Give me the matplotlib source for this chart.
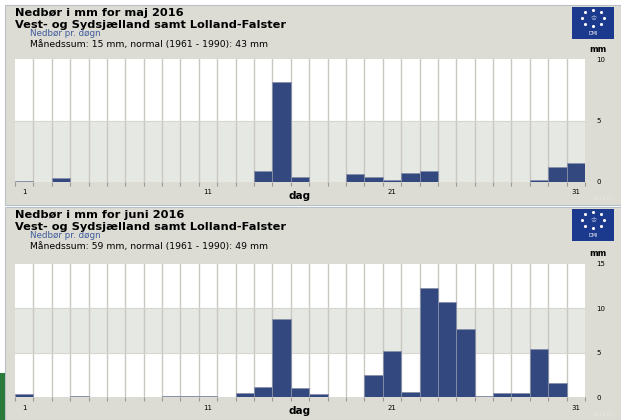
import numpy as np
import matplotlib
matplotlib.use('Agg')
import matplotlib.pyplot as plt
from matplotlib.patches import Rectangle

# Nedbør pr. døgn (mm)
days = list(range(1, 32))
maj_mm = [0.1, 0, 0.35, 0, 0, 0, 0, 0, 0, 0,
          0, 0, 0, 0.9, 8.1, 0.4, 0, 0, 0.65, 0.43,
          0.2, 0.7, 0.9, 0, 0, 0, 0, 0, 0.15, 1.2, 1.55]
juni_mm = [0.3, 0, 0, 0.1, 0, 0, 0, 0, 0.15, 0.1,
           0.1, 0, 0.4, 1.1, 8.8, 1.0, 0.3, 0, 0, 2.5,
           5.2, 0.55, 12.3, 10.7, 7.65, 0.1, 0.4, 0.4, 5.4, 1.6, 0]

panels = [
    {'title': 'Nedbør i mm for maj 2016', 'values': maj_mm,
     'summary': 'Månedssum: 15 mm, normal (1961 - 1990): 43 mm',
     'ymax': 10, 'yticks': [0, 5, 10], 'top': 5, 'bottom': 205,
     'ax_top': 59, 'ax_bottom': 182},
    {'title': 'Nedbør i mm for juni 2016', 'values': juni_mm,
     'summary': 'Månedssum: 59 mm, normal (1961 - 1990): 49 mm',
     'ymax': 15, 'yticks': [0, 5, 10, 15], 'top': 207, 'bottom': 420,
     'ax_top': 264, 'ax_bottom': 397},
]
subtitle = 'Vest- og Sydsjælland samt Lolland-Falster'

W, H = 621, 420
bg = '#dcdcd4'
bar_color = '#33487f'
band_gray = '#e6e8e3'
grid_color = '#c9c9c1'

fig = plt.figure(figsize=(W / 100, H / 100), dpi=100)
fig.patch.set_facecolor('white')


def fx(x):
    return x / W


def fy(y):
    return 1 - y / H


for p in panels:
    # panelets baggrund
    fig.patches.append(Rectangle((fx(5), fy(p['bottom'])), fx(W - 5), (p['bottom'] - p['top']) / H,
                                 transform=fig.transFigure, facecolor=bg,
                                 edgecolor='#b8c0c8', linewidth=0.8, zorder=-5))
    top = p['top']
    fig.text(fx(15), fy(top + 8), p['title'], fontsize=8.2, fontweight='bold', va='center')
    fig.text(fx(15), fy(top + 19.5), subtitle, fontsize=8.2, fontweight='bold', va='center')
    fig.text(fx(30), fy(top + 29), 'Nedbør pr. døgn', fontsize=6.3, color='#3f5c9c', va='center')
    fig.text(fx(30), fy(top + 39.5), p['summary'], fontsize=6.7, va='center')

    # DMI logo
    lx0, ly0, lx1, ly1 = 572, top + 2, 614, top + 34
    logo = fig.add_axes([fx(lx0), fy(ly1), (lx1 - lx0) / W, (ly1 - ly0) / H])
    logo.set_facecolor('#1b3a8e')
    logo.set_xlim(-1.3, 1.3)
    logo.set_ylim(-1.6, 1.2)
    ang = np.linspace(0, 2 * np.pi, 8, endpoint=False) + np.pi / 2
    logo.scatter(0.7 * np.cos(ang), 0.25 + 0.7 * np.sin(ang), s=5, color='white', linewidths=0)
    logo.text(0, 0.25, '♔', color='#c8d0e8', fontsize=5, ha='center', va='center')
    logo.text(0, -1.15, 'DMI', color='white', fontsize=3.5, ha='center', va='center')
    logo.set_xticks([])
    logo.set_yticks([])
    for s in logo.spines.values():
        s.set_visible(False)

    # selve diagrammet
    at, ab = p['ax_top'], p['ax_bottom']
    ax = fig.add_axes([fx(15), fy(ab), 570 / W, (ab - at) / H])
    ax.set_xlim(0.5, 31.5)
    ax.set_ylim(0, p['ymax'])
    ax.set_facecolor('white')
    for i in range(0, p['ymax'], 5):
        if (i // 5) % 2 == 0:
            ax.axhspan(i, i + 5, color=band_gray if p['ymax'] == 10 else 'white', zorder=0, linewidth=0)
        else:
            ax.axhspan(i, i + 5, color='white' if p['ymax'] == 10 else band_gray, zorder=0, linewidth=0)
    for b in np.arange(1.5, 31.5, 1):
        ax.axvline(b, color=grid_color, linewidth=1, zorder=1)
    for yv in p['yticks'][1:-1]:
        ax.axhline(yv, color='#d4d6d0', linewidth=0.8, zorder=1)
    ax.bar(days, p['values'], width=1.0, color=bar_color, edgecolor='#8890a8',
           linewidth=0.6, zorder=2)

    for s in ax.spines.values():
        s.set_visible(False)
    ax.set_xticks(np.arange(0.5, 32, 1))
    ax.set_xticklabels([])
    ax.tick_params(axis='x', length=3, color='#9a9a94', width=0.8)
    for d in [1, 11, 21, 31]:
        ax.text(d, -0.06 * p['ymax'], str(d), fontsize=5, ha='center', va='top',
                transform=ax.transData)
    ax.yaxis.tick_right()
    ax.set_yticks(p['yticks'])
    ax.set_yticklabels([str(t) for t in p['yticks']], fontsize=5)
    ax.tick_params(axis='y', length=0, pad=8)
    fig.text(fx(598), fy(at - 10), 'mm', fontsize=6, fontweight='bold', ha='center', va='center')
    fig.text(fx(300), fy(ab + 14), 'dag', fontsize=7.5, fontweight='bold', ha='center', va='center')
    fig.text(fx(603), fy(ab + 17), '161107', fontsize=4.5, color='#e6e6e0', ha='center', va='center')

# grøn kant nederst til venstre
fig.patches.append(Rectangle((0, 0), fx(5), 47 / H, transform=fig.transFigure,
                             facecolor='#2a7a3a', edgecolor='none', zorder=1))

fig.savefig('out.png', dpi=100, facecolor=fig.get_facecolor())
